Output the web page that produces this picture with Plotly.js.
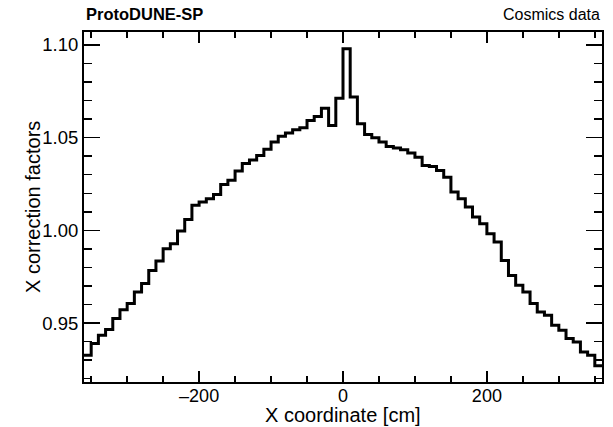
<!DOCTYPE html>
<html>
<head>
<meta charset="utf-8">
<script src="https://cdn.plot.ly/plotly-3.0.1.min.js"></script>
<style>html,body{margin:0;padding:0;background:#fff;}#chart{width:613px;height:427px;}</style>
</head>
<body>
<div id="chart"></div>
<script>
// Histogram: 72 bins of 10 cm from -360 to 360
const binLow = -360;
const binWidth = 10;
const correctionFactors = [
  0.9326, 0.9390, 0.9434, 0.9465, 0.9524, 0.9572, 0.9605, 0.9668, 0.9713, 0.9784,
  0.9835, 0.9901, 0.9928, 0.9996, 1.0058, 1.0135, 1.0153, 1.0171, 1.0194, 1.0248,
  1.0270, 1.0320, 1.0360, 1.0380, 1.0404, 1.0437, 1.0476, 1.0507, 1.0525, 1.0543,
  1.0554, 1.0593, 1.0614, 1.0659, 1.0566, 1.0713, 1.0980, 1.0719, 1.0575, 1.0517,
  1.0500, 1.0476, 1.0453, 1.0444, 1.0435, 1.0417, 1.0395, 1.0350, 1.0345, 1.0323,
  1.0287, 1.0207, 1.0171, 1.0126, 1.0072, 1.0036, 0.9982, 0.9937, 0.9838, 0.9757,
  0.9704, 0.9668, 0.9605, 0.9560, 0.9542, 0.9488, 0.9461, 0.9416, 0.9398, 0.9344,
  0.9326, 0.9270
];
const xTickVals = [-200, 0, 200];
const xTickText = ['\u2013200', '0', '200'];
const yTickVals = [0.95, 1.00, 1.05, 1.10];

const edges = correctionFactors.map((_, i) => binLow + i * binWidth);
edges.push(binLow + correctionFactors.length * binWidth);
const yStep = correctionFactors.concat([correctionFactors[correctionFactors.length - 1]]);

const font = 'Liberation Sans, Arial, Helvetica, sans-serif';

const trace = {
  x: edges,
  y: yStep,
  type: 'scatter',
  mode: 'lines',
  line: {shape: 'hv', color: '#000', width: 3},
  hoverinfo: 'skip'
};

const layout = {
  width: 613,
  height: 427,
  margin: {l: 84, r: 11, t: 32, b: 45},
  paper_bgcolor: '#fff',
  plot_bgcolor: '#fff',
  showlegend: false,
  font: {family: font, size: 18, color: '#000'},
  xaxis: {
    range: [-360, 360],
    tickvals: xTickVals,
    ticktext: xTickText,
    ticks: 'inside',
    ticklen: 11,
    tickwidth: 1.5,
    tickcolor: '#000',
    minor: {dtick: 50, ticks: 'inside', ticklen: 6, tickwidth: 1.5, tickcolor: '#000'},
    showline: true,
    linecolor: '#000',
    linewidth: 2,
    mirror: 'ticks',
    showgrid: false,
    zeroline: false,
    ticklabelstandoff: -4,
    tickfont: {family: font, size: 18, color: '#000'}
  },
  yaxis: {
    range: [0.9182, 1.107],
    tickvals: yTickVals,
    tickformat: '.2f',
    ticks: 'inside',
    ticklen: 16,
    tickwidth: 1.5,
    tickcolor: '#000',
    minor: {dtick: 0.01, ticks: 'inside', ticklen: 8, tickwidth: 1.5, tickcolor: '#000'},
    showline: true,
    linecolor: '#000',
    linewidth: 2,
    mirror: 'ticks',
    showgrid: false,
    zeroline: false,
    tickfont: {family: font, size: 18.5, color: '#000'}
  },
  annotations: [
    {text: '<b>ProtoDUNE-SP</b>', xref: 'paper', yref: 'paper', x: 0, y: 1.051,
     xanchor: 'left', yanchor: 'middle', showarrow: false,
     font: {family: font, size: 16.5, color: '#000'}},
    {text: 'Cosmics data', xref: 'paper', yref: 'paper', x: 1, y: 1.051,
     xanchor: 'right', yanchor: 'middle', showarrow: false,
     font: {family: font, size: 16, color: '#000'}},
    {text: 'X coordinate [cm]', xref: 'paper', yref: 'paper', x: 0.5, y: -0.0943,
     xanchor: 'center', yanchor: 'middle', showarrow: false,
     font: {family: font, size: 20, color: '#000'}},
    {text: 'X correction factors', xref: 'paper', yref: 'paper', x: -0.0985, y: 0.5,
     xanchor: 'center', yanchor: 'middle', textangle: -90, showarrow: false,
     font: {family: font, size: 20, color: '#000'}}
  ]
};

Plotly.newPlot('chart', [trace], layout, {displayModeBar: false, staticPlot: true});
</script>
</body>
</html>
